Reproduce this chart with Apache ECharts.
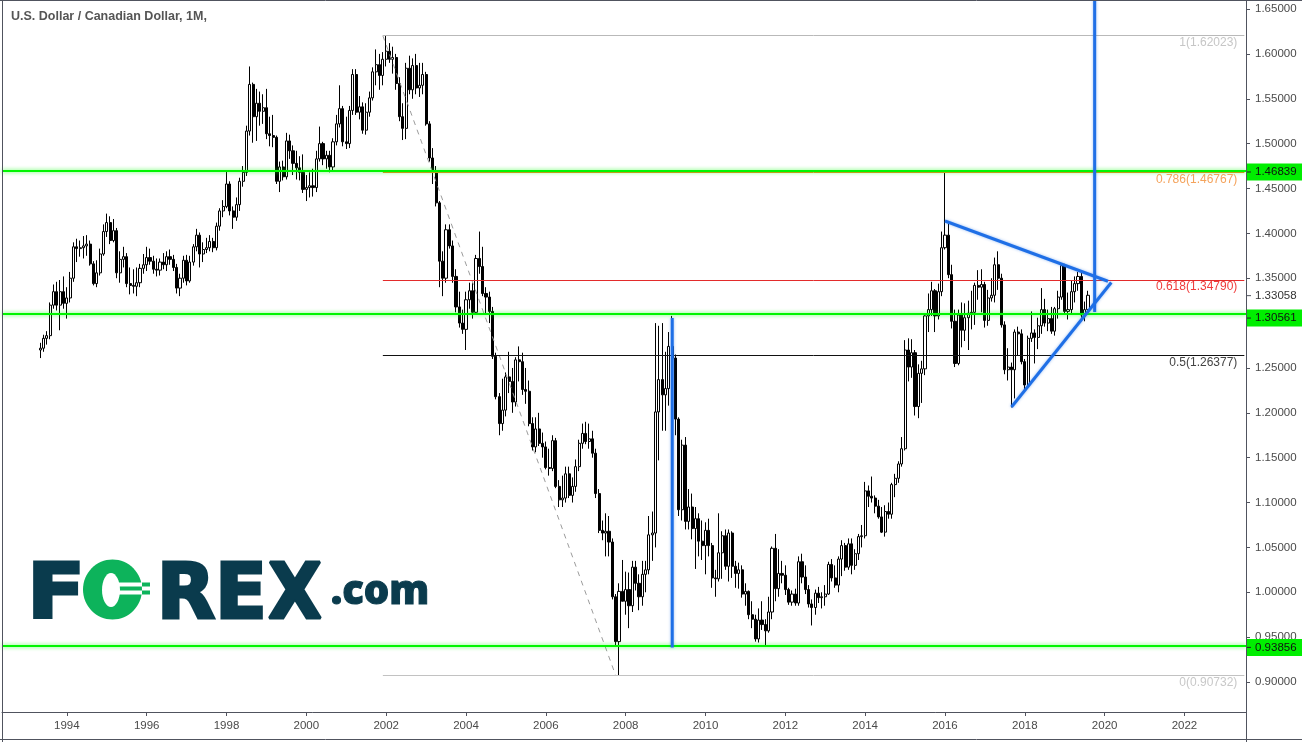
<!DOCTYPE html>
<html><head><meta charset="utf-8">
<script src="https://cdn.jsdelivr.net/npm/echarts/dist/echarts.min.js"></script>
<style>html,body{margin:0;padding:0;background:#fff}#c{width:1302px;height:742px}</style>
</head><body><div id="c"></div>
<script>
// ---------------- DATA ----------------
const axisFirstMonth = '1992-06';
const axisLastMonth = '2023-07';
const dataFirstMonth = '1993-05';
const yearTicks = ['1994','1996','1998','2000','2002','2004','2006','2008','2010','2012','2014','2016','2018','2020','2022'];

const opens = [
1.270,1.272,1.283,1.286,1.320,1.335,1.320,1.335,
1.322,1.328,1.350,1.385,1.383,1.384,1.386,1.388,1.366,1.344,1.356,1.377,
1.402,1.412,1.392,1.403,1.356,1.371,1.374,1.344,1.342,1.341,1.345,1.361,
1.365,1.373,1.369,1.360,1.359,1.368,1.365,1.374,1.371,1.362,1.339,1.350,
1.370,1.347,1.368,1.385,1.398,1.377,1.382,1.384,1.391,1.384,1.408,1.425,
1.430,1.455,1.425,1.418,1.432,1.458,1.468,1.514,1.566,1.530,1.545,1.536,
1.540,1.511,1.509,1.507,1.458,1.474,1.463,1.503,1.492,1.478,1.473,1.468,
1.449,1.451,1.453,1.451,1.483,1.500,1.483,1.487,1.474,1.502,1.522,1.539,
1.502,1.500,1.537,1.577,1.535,1.541,1.515,1.535,1.551,1.580,1.588,1.576,
1.594,1.603,1.594,1.596,1.567,1.530,1.517,1.584,1.560,1.587,1.562,1.565,
1.577,1.522,1.484,1.469,1.434,1.369,1.350,1.404,1.386,1.352,1.318,1.300,
1.293,1.326,1.336,1.312,1.372,1.363,1.333,1.329,1.313,1.263,1.218,1.188,
1.203,1.240,1.235,1.212,1.259,1.257,1.226,1.224,1.188,1.162,1.182,1.166,
1.162,1.139,1.138,1.169,1.118,1.103,1.105,1.132,1.108,1.118,1.140,1.166,
1.177,1.168,1.171,1.155,1.110,1.069,1.066,1.068,1.056,0.995,0.945,1.001,
0.990,1.003,0.985,1.028,1.010,0.995,1.020,1.025,1.064,1.066,1.201,1.237,
1.220,1.227,1.274,1.261,1.193,1.092,1.164,1.079,1.095,1.071,1.082,1.057,
1.052,1.069,1.052,1.016,1.015,1.044,1.063,1.029,1.066,1.029,1.021,1.025,
0.998,1.001,0.975,0.970,0.948,0.969,0.964,0.957,0.978,1.049,1.004,1.021,
1.019,1.003,0.989,0.998,0.988,1.034,1.017,1.003,0.987,0.983,0.999,0.994,
0.995,0.998,1.031,1.016,1.008,1.037,1.052,1.028,1.054,1.030,1.043,1.062,
1.063,1.113,1.107,1.105,1.096,1.084,1.067,1.090,1.087,1.120,1.127,1.143,
1.160,1.270,1.251,1.267,1.207,1.244,1.249,1.308,1.315,1.336,1.308,1.335,
1.384,1.398,1.354,1.302,1.255,1.309,1.292,1.306,1.311,1.312,1.342,1.340,
1.343,1.303,1.328,1.331,1.365,1.350,1.298,1.248,1.251,1.248,1.290,1.288,
1.257,1.231,1.283,1.289,1.284,1.297,1.315,1.300,1.305,1.291,1.316,1.329,
1.364,1.313,1.315,1.335,1.344,1.352,1.309,1.315
];
const highs = [
1.278,1.287,1.291,1.323,1.343,1.346,1.348,1.352,
1.340,1.357,1.390,1.394,1.392,1.397,1.398,1.392,1.369,1.370,1.383,1.410,
1.422,1.419,1.416,1.406,1.380,1.385,1.378,1.362,1.360,1.362,1.366,1.377,
1.385,1.383,1.375,1.372,1.372,1.378,1.380,1.382,1.376,1.366,1.355,1.375,
1.376,1.375,1.388,1.405,1.401,1.390,1.395,1.398,1.395,1.412,1.428,1.437,
1.469,1.458,1.430,1.440,1.462,1.475,1.520,1.586,1.568,1.561,1.558,1.555,
1.561,1.530,1.532,1.509,1.480,1.481,1.512,1.510,1.498,1.492,1.486,1.488,
1.465,1.468,1.472,1.492,1.519,1.502,1.492,1.492,1.506,1.532,1.565,1.542,
1.530,1.542,1.583,1.583,1.553,1.546,1.545,1.558,1.585,1.605,1.600,1.602,
1.620,1.612,1.608,1.600,1.574,1.545,1.590,1.598,1.595,1.600,1.590,1.590,
1.580,1.525,1.495,1.475,1.436,1.380,1.410,1.410,1.392,1.360,1.335,1.315,
1.335,1.345,1.345,1.376,1.402,1.385,1.340,1.335,1.318,1.267,1.222,1.238,
1.245,1.268,1.250,1.262,1.274,1.267,1.250,1.236,1.195,1.195,1.200,1.178,
1.168,1.160,1.175,1.172,1.125,1.130,1.140,1.140,1.128,1.148,1.170,1.188,
1.190,1.188,1.180,1.160,1.115,1.080,1.088,1.085,1.060,0.998,1.010,1.036,
1.023,1.022,1.035,1.035,1.020,1.035,1.035,1.085,1.090,1.300,1.297,1.300,
1.268,1.290,1.308,1.265,1.195,1.170,1.173,1.115,1.110,1.095,1.088,1.080,
1.078,1.082,1.055,1.025,1.088,1.068,1.070,1.070,1.068,1.035,1.033,1.030,
1.010,1.002,0.990,0.975,0.982,0.990,0.970,0.995,1.051,1.065,1.048,1.035,
1.030,1.005,1.002,1.004,1.040,1.043,1.030,1.008,0.992,1.003,1.006,1.000,
1.008,1.034,1.037,1.030,1.040,1.058,1.055,1.060,1.060,1.048,1.065,1.075,
1.123,1.119,1.129,1.108,1.103,1.095,1.097,1.100,1.122,1.132,1.146,1.173,
1.281,1.283,1.282,1.270,1.254,1.258,1.309,1.333,1.346,1.338,1.344,1.402,
1.469,1.412,1.365,1.315,1.315,1.323,1.322,1.325,1.336,1.345,1.359,1.360,
1.346,1.337,1.350,1.373,1.380,1.355,1.302,1.272,1.256,1.293,1.296,1.293,
1.260,1.286,1.313,1.293,1.306,1.339,1.327,1.315,1.318,1.318,1.336,1.366,
1.366,1.334,1.347,1.352,1.357,1.357,1.324,1.336
];
const lows = [
1.261,1.268,1.276,1.282,1.316,1.314,1.292,1.316,
1.305,1.323,1.346,1.368,1.374,1.372,1.375,1.364,1.342,1.340,1.353,1.375,
1.396,1.388,1.390,1.350,1.345,1.362,1.340,1.332,1.333,1.330,1.340,1.355,
1.358,1.365,1.355,1.352,1.353,1.360,1.358,1.365,1.358,1.333,1.330,1.345,
1.342,1.345,1.364,1.380,1.362,1.368,1.378,1.380,1.379,1.381,1.403,1.418,
1.428,1.420,1.405,1.414,1.425,1.452,1.464,1.509,1.501,1.503,1.520,1.522,
1.505,1.497,1.496,1.455,1.446,1.459,1.460,1.483,1.465,1.460,1.459,1.445,
1.436,1.440,1.441,1.446,1.480,1.476,1.472,1.468,1.470,1.498,1.518,1.497,
1.494,1.495,1.532,1.532,1.527,1.511,1.510,1.530,1.548,1.565,1.560,1.565,
1.586,1.590,1.578,1.560,1.525,1.504,1.505,1.555,1.550,1.555,1.552,1.555,
1.520,1.480,1.455,1.430,1.340,1.330,1.345,1.383,1.345,1.312,1.295,1.288,
1.270,1.316,1.305,1.310,1.355,1.330,1.310,1.300,1.260,1.215,1.175,1.180,
1.196,1.222,1.200,1.207,1.235,1.220,1.210,1.185,1.158,1.156,1.163,1.150,
1.137,1.130,1.135,1.116,1.095,1.095,1.100,1.105,1.100,1.112,1.135,1.160,
1.165,1.160,1.150,1.105,1.066,1.058,1.040,1.040,0.992,0.940,0.907,0.990,
0.975,0.960,0.978,1.002,0.980,0.985,1.000,1.020,1.035,1.050,1.147,1.180,
1.180,1.208,1.225,1.175,1.085,1.080,1.070,1.070,1.059,1.026,1.040,1.036,
1.020,1.040,1.005,0.995,1.012,1.015,1.025,1.012,1.016,1.005,1.004,0.994,
0.985,0.970,0.960,0.945,0.944,0.958,0.941,0.955,0.970,0.990,0.995,1.010,
0.997,0.986,0.985,0.985,0.985,1.010,0.998,0.983,0.963,0.975,0.988,0.982,
0.985,0.997,1.012,1.005,1.000,1.018,1.024,1.025,1.020,1.025,1.036,1.050,
1.060,1.095,1.100,1.088,1.082,1.066,1.062,1.082,1.082,1.106,1.122,1.140,
1.158,1.235,1.239,1.197,1.194,1.211,1.242,1.290,1.308,1.290,1.304,1.330,
1.382,1.350,1.294,1.251,1.253,1.273,1.280,1.270,1.293,1.298,1.326,1.312,
1.295,1.297,1.324,1.323,1.337,1.295,1.243,1.236,1.206,1.216,1.264,1.254,
1.225,1.228,1.279,1.255,1.271,1.288,1.296,1.291,1.288,1.286,1.305,1.326,
1.311,1.304,1.309,1.323,1.336,1.306,1.302,1.311
];
const closes = [
1.272,1.283,1.286,1.320,1.335,1.320,1.335,1.322,
1.328,1.350,1.385,1.383,1.384,1.386,1.388,1.366,1.344,1.356,1.377,1.402,
1.412,1.392,1.403,1.356,1.371,1.374,1.344,1.342,1.341,1.345,1.361,1.365,
1.373,1.369,1.360,1.359,1.368,1.365,1.374,1.371,1.362,1.339,1.350,1.370,
1.347,1.368,1.385,1.398,1.377,1.382,1.384,1.391,1.384,1.408,1.425,1.430,
1.455,1.425,1.418,1.432,1.458,1.468,1.514,1.566,1.530,1.545,1.536,1.540,
1.511,1.509,1.507,1.458,1.474,1.463,1.503,1.492,1.478,1.473,1.468,1.449,
1.451,1.453,1.451,1.483,1.500,1.483,1.487,1.474,1.502,1.522,1.539,1.502,
1.500,1.537,1.577,1.535,1.541,1.515,1.535,1.551,1.580,1.588,1.576,1.594,
1.603,1.594,1.596,1.567,1.530,1.517,1.584,1.560,1.587,1.562,1.565,1.577,
1.522,1.484,1.469,1.434,1.369,1.350,1.404,1.386,1.352,1.318,1.300,1.293,
1.326,1.336,1.312,1.372,1.363,1.333,1.329,1.313,1.263,1.218,1.188,1.203,
1.240,1.235,1.212,1.259,1.257,1.226,1.224,1.188,1.162,1.182,1.166,1.162,
1.139,1.138,1.169,1.118,1.103,1.105,1.132,1.108,1.118,1.140,1.166,1.177,
1.168,1.171,1.155,1.110,1.069,1.066,1.068,1.056,0.995,0.945,1.001,0.990,
1.003,0.985,1.028,1.010,0.995,1.020,1.025,1.064,1.066,1.201,1.237,1.220,
1.227,1.274,1.261,1.193,1.092,1.164,1.079,1.095,1.071,1.082,1.057,1.052,
1.069,1.052,1.016,1.015,1.044,1.063,1.029,1.066,1.029,1.021,1.025,0.998,
1.001,0.975,0.970,0.948,0.969,0.964,0.957,0.978,1.049,1.004,1.021,1.019,
1.003,0.989,0.998,0.988,1.034,1.017,1.003,0.987,0.983,0.999,0.994,0.995,
0.998,1.031,1.016,1.008,1.037,1.052,1.028,1.054,1.030,1.043,1.062,1.063,
1.113,1.107,1.105,1.096,1.084,1.067,1.090,1.087,1.120,1.127,1.143,1.160,
1.270,1.251,1.267,1.207,1.244,1.249,1.308,1.315,1.336,1.308,1.335,1.384,
1.398,1.354,1.302,1.255,1.309,1.292,1.306,1.311,1.312,1.342,1.340,1.343,
1.303,1.328,1.331,1.365,1.350,1.298,1.248,1.251,1.248,1.290,1.288,1.257,
1.231,1.283,1.289,1.284,1.297,1.315,1.300,1.305,1.291,1.316,1.329,1.364,
1.313,1.315,1.335,1.344,1.352,1.309,1.315,1.331
];

const fibRatios = ['1','0.786','0.618','0.5','0'];
const fibValues = [1.62023, 1.46767, 1.34790, 1.26377, 0.90732];
const fibStartMonth = '2001-12';
const fibDiagonal = [['2001-12', 1.62023], ['2007-10', 0.90732]];
const levelValues = [1.46839, 1.30561, 0.93856];
const lastPrice = 1.33058;
const triangleUpper = [['2016-01', 1.4138], ['2020-02', 1.3466]];
const triangleLower = [['2017-09', 1.2065], ['2020-03', 1.3452]];
const moveMeasure = [['2009-03', 1.30561], ['2009-03', 0.93856]];
const moveTarget = [['2019-10', 1.3123], ['2019-10', 1.70]];
const yMin = 0.86657, yMax = 1.66006, yStep = 0.05;

// ---------------- BUILD ----------------
function monthList(a, b) {
  const out = [];
  let y = +a.slice(0,4), m = +a.slice(5,7);
  const ey = +b.slice(0,4), em = +b.slice(5,7);
  while (y < ey || (y === ey && m <= em)) {
    out.push(y + '-' + String(m).padStart(2,'0'));
    m++; if (m > 12) { m = 1; y++; }
  }
  return out;
}
const categories = monthList(axisFirstMonth, axisLastMonth);
const offset = categories.indexOf(dataFirstMonth);
const candleData = categories.map((c, i) => {
  const k = i - offset;
  return (k >= 0 && k < closes.length) ? [opens[k], closes[k], lows[k], highs[k]] : '-';
});
const lastCat = categories[categories.length - 1];
const isYearTick = (v) => v.slice(5) === '01' && yearTicks.includes(v.slice(0,4));
const isStep = (v) => Math.abs(v / yStep - Math.round(v / yStep)) < 1e-6;

const AX = '#50535e';
const FONT = '"Liberation Sans", Arial, sans-serif';
const fibLineColors = ['#b9b9b9', '#f0841e', '#e32b2b', '#111111', '#c2c2c2'];
const fibTextColors = ['#c6c6c6', '#f4a35c', '#f03b3b', '#444444', '#c8c8c8'];
const BLUE = '#1f6fe6';

const chart = echarts.init(document.getElementById('c'), null, {renderer: 'canvas', width: 1302, height: 742});

const blueLine = (data) => ({
  type: 'line', data, symbol: 'none', silent: true, z: 6,
  lineStyle: {color: BLUE, width: 3, shadowColor: 'rgba(31,111,230,0.45)', shadowBlur: 3}
});

chart.setOption({
  animation: false,
  backgroundColor: '#ffffff',
  grid: {left: 2, right: 56, top: 0, bottom: 30},
  xAxis: {
    type: 'category', data: categories, boundaryGap: true,
    axisLine: {show: true, lineStyle: {color: AX, width: 1}},
    axisTick: {show: true, alignWithLabel: true, length: 4, interval: (i, v) => isYearTick(v), lineStyle: {color: AX}},
    axisLabel: {interval: (i, v) => isYearTick(v), formatter: v => v.slice(0,4), color: '#4a4a4a', fontSize: 11.5, fontFamily: FONT, margin: 8},
    splitLine: {show: false}
  },
  yAxis: {
    type: 'value', position: 'right', min: yMin, max: yMax, splitNumber: 16,
    minInterval: yStep, maxInterval: yStep,
    axisLine: {show: true, lineStyle: {color: AX, width: 1}},
    axisTick: {show: true, length: 4, lineStyle: {color: AX}},
    axisLabel: {
      showMinLabel: false, showMaxLabel: false,
      formatter: v => (isStep(v) && v > 0.87 && v < 1.66) ? v.toFixed(5) : '',
      color: '#4a4a4a', fontSize: 11.5, fontFamily: FONT, margin: 9
    },
    splitLine: {show: false}
  },
  series: [
    {
      type: 'candlestick', data: candleData, barWidth: 2.6, silent: true, z: 3,
      itemStyle: {color: '#ffffff', color0: '#000000', borderColor: '#000000', borderColor0: '#000000', borderWidth: 1},
      markLine: {
        silent: true, symbol: ['none', 'none'], animation: false,
        data: [
          ...fibValues.map((v, i) => [
            {coord: [fibStartMonth, v], lineStyle: {color: fibLineColors[i], width: 1, type: 'solid'},
             label: {show: true, position: 'insideEndBottom', formatter: fibRatios[i] + '(' + v.toFixed(5) + ')',
                     color: fibTextColors[i], fontSize: 12, fontFamily: FONT, distance: [7, 1]}},
            {coord: [lastCat, v]}
          ]),
          ...levelValues.map(v => ({yAxis: v,
            lineStyle: {color: '#00f500', width: 2, type: 'solid', shadowColor: 'rgba(0,255,0,0.7)', shadowBlur: 4},
            label: {show: false}}))
        ]
      }
    },
    {
      type: 'line', data: fibDiagonal, symbol: 'none', silent: true, z: 4,
      lineStyle: {color: '#9c9c9c', width: 1, type: [5, 5]}
    },
    blueLine(moveMeasure),
    blueLine(moveTarget),
    blueLine(triangleUpper),
    blueLine(triangleLower)
  ]
});

// ---------------- OVERLAYS (positions from the chart's own scale) ----------------
const g = [];
const yOf = v => chart.convertToPixel({yAxisIndex: 0}, v);
const T = (x, y, text, fill, font, align, z, extra) => Object.assign({type: 'text', x, y, z,
  style: Object.assign({text, fill, font, align, verticalAlign: 'middle', textAlign: align, textVerticalAlign: 'middle'}, (extra && extra.style) || {})},
  extra && extra.scaleX ? {scaleX: extra.scaleX} : {});
// frame
g.push({type: 'line', shape: {x1: 0, y1: 0.5, x2: 1302, y2: 0.5}, style: {stroke: AX, lineWidth: 1}, z: 50});
g.push({type: 'line', shape: {x1: 2.5, y1: 0, x2: 2.5, y2: 742}, style: {stroke: AX, lineWidth: 1}, z: 50});
g.push({type: 'line', shape: {x1: 0, y1: 739.5, x2: 1302, y2: 739.5}, style: {stroke: AX, lineWidth: 1}, z: 50});
g.push({type: 'line', shape: {x1: 1246.5, y1: 700, x2: 1246.5, y2: 742}, style: {stroke: AX, lineWidth: 1}, z: 50});
// green price tags
levelValues.forEach(v => {
  const y = yOf(v);
  g.push({type: 'rect', shape: {x: 1247, y: y - 8.5, width: 55, height: 17}, style: {fill: '#00ee00'}, z: 100});
  g.push({type: 'line', shape: {x1: 1247, y1: y, x2: 1251, y2: y}, style: {stroke: '#222', lineWidth: 1}, z: 101});
  g.push(T(1255, y, v.toFixed(5), '#111', '11.5px ' + FONT, 'left', 101));
});
// last price label
{
  const y = yOf(lastPrice);
  g.push({type: 'rect', shape: {x: 1247, y: y - 8, width: 55, height: 16}, style: {fill: '#ffffff'}, z: 100});
  g.push({type: 'line', shape: {x1: 1247, y1: y, x2: 1251, y2: y}, style: {stroke: AX, lineWidth: 1}, z: 101});
  g.push(T(1255, y, lastPrice.toFixed(5), '#333', '11.5px ' + FONT, 'left', 101));
}
// title
g.push(T(11, 17, 'U.S. Dollar / Canadian Dollar, 1M,', '#555555', 'bold 12.5px ' + FONT, 'left', 60));
// logo
const NAVY = '#0a3b4d', LGREEN = '#0db35b';
const LF = 'bold 76px "DejaVu Sans", sans-serif';
const heavy = (sx) => ({scaleX: sx, style: {stroke: NAVY, lineWidth: 3, lineJoin: 'miter'}});
g.push(T(56, 598, 'F', NAVY, LF, 'center', 10, heavy(1.12)));
g.push(T(186, 598, 'R', NAVY, LF, 'center', 10, heavy(1.0)));
g.push(T(241, 598, 'E', NAVY, LF, 'center', 10, heavy(1.0)));
g.push(T(295, 598, 'X', NAVY, LF, 'center', 10, heavy(0.92)));
g.push(T(380, 592.5, '.com', NAVY, '800 40px "Open Sans", "DejaVu Sans", sans-serif', 'center', 10,
  {style: {stroke: NAVY, lineWidth: 1}}));
// the green "O" with its currency bars
g.push({type: 'ellipse', shape: {cx: 112.5, cy: 589.5, rx: 29.5, ry: 30}, style: {fill: LGREEN}, z: 10});
g.push({type: 'ellipse', shape: {cx: 111, cy: 590, rx: 9, ry: 17}, style: {fill: '#ffffff'}, z: 11});
g.push({type: 'rect', shape: {x: 114, y: 582.5, width: 28, height: 4}, style: {fill: '#ffffff'}, z: 11});
g.push({type: 'rect', shape: {x: 114, y: 590.5, width: 28, height: 4}, style: {fill: '#ffffff'}, z: 11});
g.push({type: 'rect', shape: {x: 142, y: 582.5, width: 8, height: 4}, style: {fill: LGREEN}, z: 11});
g.push({type: 'rect', shape: {x: 142, y: 590.5, width: 8, height: 4}, style: {fill: LGREEN}, z: 11});

chart.setOption({graphic: {elements: g}});
</script>
</body></html>
